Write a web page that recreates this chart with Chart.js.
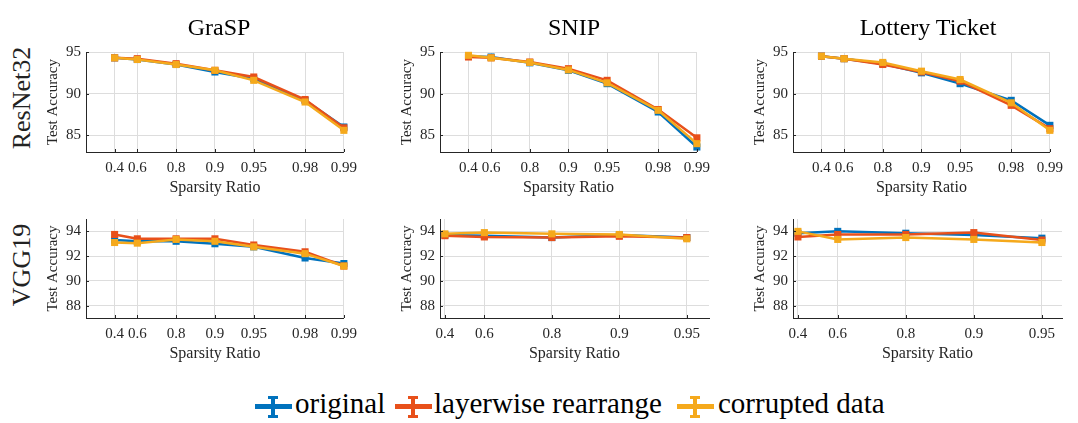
<!DOCTYPE html>
<html><head><meta charset="utf-8">
<script src="https://cdn.jsdelivr.net/npm/chart.js@4.4.1/dist/chart.umd.min.js"></script>
<style>
body{margin:0;background:#fff;}
#wrap{position:relative;width:1078px;height:423px;overflow:hidden;font-family:'Liberation Serif',serif;color:#000;background:#fff}
canvas{position:absolute}
.t{position:absolute;white-space:nowrap;line-height:1}
.icon{position:absolute;width:37px;height:22px}
.icon .h{position:absolute;left:0;right:0;top:8px;height:5px}
.icon .v{position:absolute;left:16px;width:4px;top:0;height:22px}
.icon .c1,.icon .c2{position:absolute;left:13px;width:10px;height:3px}
.icon .c1{top:0}.icon .c2{bottom:0}
</style></head><body><div id="wrap"></div>
<script>
// ---------------- data ----------------
const sparsityLong = [0.4, 0.6, 0.8, 0.9, 0.95, 0.98, 0.99];
const sparsityShort = [0.4, 0.6, 0.8, 0.9, 0.95];
const tickLabelsLong = ['0.4', '0.6', '0.8', '0.9', '0.95', '0.98', '0.99'];
const tickLabelsShort = ['0.4', '0.6', '0.8', '0.9', '0.95'];
const seriesNames = ['original', 'layerwise rearrange', 'corrupted data'];
const columnTitles = ['GraSP', 'SNIP', 'Lottery Ticket'];
const rowTitles = ['ResNet32', 'VGG19'];
const resnetYTicks = [85, 90, 95];
const vggYTicks = [88, 90, 92, 94];

const resnetGraspOriginal   = [94.3, 94.1, 93.5, 92.6, 91.8, 89.2, 86.0];
const resnetGraspLayerwise  = [94.3, 94.2, 93.6, 92.8, 92.0, 89.3, 85.9];
const resnetGraspCorrupted  = [94.3, 94.1, 93.5, 92.8, 91.6, 89.0, 85.6];

const resnetSnipOriginal    = [94.5, 94.4, 93.7, 92.8, 91.2, 87.8, 83.6];
const resnetSnipLayerwise   = [94.4, 94.3, 93.8, 93.0, 91.6, 88.1, 84.7];
const resnetSnipCorrupted   = [94.6, 94.3, 93.75, 92.85, 91.3, 88.0, 84.0];

const resnetLtOriginal      = [94.5, 94.2, 93.6, 92.5, 91.2, 89.2, 86.2];
const resnetLtLayerwise     = [94.5, 94.2, 93.5, 92.6, 91.5, 88.6, 85.8];
const resnetLtCorrupted     = [94.5, 94.2, 93.75, 92.7, 91.7, 88.9, 85.6];

const vggGraspOriginal      = [93.3, 93.2, 93.2, 93.0, 92.75, 91.85, 91.4];
const vggGraspLayerwise     = [93.75, 93.4, 93.4, 93.4, 92.9, 92.35, 91.2];
const vggGraspCorrupted     = [93.1, 93.05, 93.35, 93.2, 92.75, 92.2, 91.2];

const vggSnipOriginal       = [93.7, 93.65, 93.5, 93.7, 93.5];
const vggSnipLayerwise      = [93.65, 93.55, 93.5, 93.6, 93.5];
const vggSnipCorrupted      = [93.8, 93.9, 93.8, 93.75, 93.4];

const vggLtOriginal         = [93.85, 94.0, 93.85, 93.7, 93.45];
const vggLtLayerwise        = [93.55, 93.75, 93.75, 93.9, 93.3];
const vggLtCorrupted        = [94.0, 93.35, 93.5, 93.35, 93.1];

// ---------------- style ----------------
const COLORS = ['#0072BD', '#E8501A', '#F5A91C'];
const FONT = "'Liberation Serif', 'Times New Roman', serif";
const INK = '#262626';
// x position: -log10(1 - sparsity)
const toX = s => -Math.log10(1 - s);

const panels = [
  {L:86,  R:356,  T:44,  B:152, sp:sparsityLong,  lab:tickLabelsLong,  xr:[0,2],     yr:[83,95], yt:resnetYTicks, d:[resnetGraspOriginal, resnetGraspLayerwise, resnetGraspCorrupted]},
  {L:440, R:709,  T:44,  B:152, sp:sparsityLong,  lab:tickLabelsLong,  xr:[0,2],     yr:[83,95], yt:resnetYTicks, d:[resnetSnipOriginal, resnetSnipLayerwise, resnetSnipCorrupted]},
  {L:793, R:1062, T:44,  B:152, sp:sparsityLong,  lab:tickLabelsLong,  xr:[0,2],     yr:[83,95], yt:resnetYTicks, d:[resnetLtOriginal, resnetLtLayerwise, resnetLtCorrupted]},
  {L:86,  R:356,  T:211, B:318, sp:sparsityLong,  lab:tickLabelsLong,  xr:[0,2],     yr:[87,95], yt:vggYTicks, d:[vggGraspOriginal, vggGraspLayerwise, vggGraspCorrupted]},
  {L:440, R:709,  T:211, B:318, sp:sparsityShort, lab:tickLabelsShort, xr:[0.2,1.4], yr:[87,95], yt:vggYTicks, d:[vggSnipOriginal, vggSnipLayerwise, vggSnipCorrupted]},
  {L:793, R:1062, T:211, B:318, sp:sparsityShort, lab:tickLabelsShort, xr:[0.2,1.39],yr:[87,95], yt:vggYTicks, d:[vggLtOriginal, vggLtLayerwise, vggLtCorrupted]}
];

const wrap = document.getElementById('wrap');
const AXW = 46, PADT = 6, PADR = 8, AXH = 48;

const innerTicks = {
  id: 'innerTicks',
  afterDatasetsDraw(chart) {
    const {ctx, chartArea: a, scales: {x, y}} = chart;
    ctx.save();
    ctx.strokeStyle = INK; ctx.lineWidth = 1;
    ctx.beginPath();
    x.ticks.forEach(t => { const px = Math.round(x.getPixelForValue(t.value)) + 0.5; ctx.moveTo(px, a.bottom); ctx.lineTo(px, a.bottom - 3); });
    y.ticks.forEach(t => { const py = Math.round(y.getPixelForValue(t.value)) + 0.5; ctx.moveTo(a.left, py); ctx.lineTo(a.left + 3, py); });
    ctx.stroke();
    ctx.restore();
  }
};

panels.forEach(p => {
  const c = document.createElement('canvas');
  const w = (p.R - p.L) + AXW + PADR, h = (p.B - p.T) + PADT + AXH;
  c.width = w; c.height = h;
  c.style.left = (p.L - AXW) + 'px'; c.style.top = (p.T - PADT) + 'px';
  c.style.width = w + 'px'; c.style.height = h + 'px';
  wrap.appendChild(c);
  const xs = p.sp.map(toX);
  const datasets = p.d.map((vals, i) => ({
    label: seriesNames[i],
    data: vals.map((v, k) => ({x: xs[k], y: v})),
    borderColor: COLORS[i], backgroundColor: COLORS[i],
    borderWidth: 2.5, pointStyle: 'rect', pointRadius: 5, pointBorderWidth: 0,
    tension: 0, order: 3 - i, clip: 6
  }));
  new Chart(c, {
    type: 'line',
    data: {datasets},
    plugins: [innerTicks],
    options: {
      responsive: false, animation: false, devicePixelRatio: 1,
      layout: {padding: {left: 0, right: PADR, top: PADT, bottom: 0}},
      plugins: {legend: {display: false}, tooltip: {enabled: false}},
      scales: {
        x: {
          type: 'linear', min: p.xr[0], max: p.xr[1],
          afterBuildTicks: s => { s.ticks = xs.map(v => ({value: v})); },
          afterFit: s => { s.height = AXH; },
          ticks: {autoSkip: false, maxRotation: 0, padding: 7, color: INK,
                  font: {family: FONT, size: 15},
                  callback: (v, i) => p.lab[i]},
          grid: {color: '#dddddd', lineWidth: 1, drawTicks: false},
          border: {display: true, color: INK, width: 1},
          title: {display: true, text: 'Sparsity Ratio', color: INK,
                  font: {family: FONT, size: 16}, padding: {top: 0, bottom: 3}}
        },
        y: {
          type: 'linear', min: p.yr[0], max: p.yr[1],
          afterBuildTicks: s => { s.ticks = p.yt.map(v => ({value: v})); },
          afterFit: s => { s.width = AXW; },
          ticks: {padding: 5, color: INK, font: {family: FONT, size: 15}},
          grid: {color: '#dddddd', lineWidth: 1, drawTicks: false},
          border: {display: true, color: INK, width: 1},
          title: {display: true, text: 'Test Accuracy', color: INK,
                  font: {family: FONT, size: 15}, padding: {top: 4, bottom: 0}}
        }
      }
    }
  });
});

// column titles
const colCenters = [219, 574, 928];
columnTitles.forEach((t, i) => {
  const d = document.createElement('div');
  d.className = 't'; d.textContent = t;
  d.style.fontSize = '24px'; d.style.left = colCenters[i] + 'px'; d.style.top = '15px';
  d.style.transform = 'translateX(-50%)';
  wrap.appendChild(d);
});
// row titles
const rowCenters = [98, 265];
rowTitles.forEach((t, i) => {
  const d = document.createElement('div');
  d.className = 't'; d.textContent = t;
  d.style.fontSize = '26px'; d.style.color = '#222';
  d.style.left = '22px'; d.style.top = rowCenters[i] + 'px';
  d.style.transform = 'translate(-50%,-50%) rotate(-90deg)';
  wrap.appendChild(d);
});
// legend
const legIcon = [255, 395, 677];
const legText = [295, 434, 718];
seriesNames.forEach((n, i) => {
  const ic = document.createElement('div');
  ic.className = 'icon';
  ic.style.left = legIcon[i] + 'px'; ic.style.top = '396px';
  ['h', 'v', 'c1', 'c2'].forEach(k => {
    const e = document.createElement('div'); e.className = k; e.style.background = COLORS[i]; ic.appendChild(e);
  });
  wrap.appendChild(ic);
  const d = document.createElement('div');
  d.className = 't'; d.textContent = n;
  d.style.fontSize = '29px'; d.style.left = legText[i] + 'px'; d.style.top = '389px';
  wrap.appendChild(d);
});
</script></body></html>
